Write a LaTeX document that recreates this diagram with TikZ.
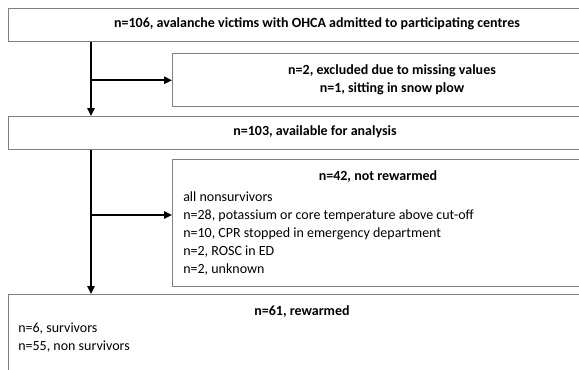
\documentclass[tikz,border=0pt]{standalone}
\usepackage{fontspec}
\setmainfont{Carlito}
\usetikzlibrary{arrows.meta,positioning}

\tikzset{
	box/.style={draw=gray,line width=1.1pt,anchor=north west,inner sep=0pt,minimum width=700pt},
	flow/.style={line width=1.4pt,-{Triangle[length=6pt,width=5.5pt]}},
	txt/.style={inner sep=0pt,font=\fontsize{10.5}{13.5}\selectfont},
	head/.style={txt,font=\fontsize{10.5}{13.5}\selectfont\bfseries},
}

\begin{document}
\begin{tikzpicture}[x=0.75pt,y=-0.75pt]
		\fill[white] (0,0) rectangle (579,369);
		% boxes
		\node[box,minimum height=24.75pt] (admitted) at (8,8) {};
		\node[box,minimum height=39.75pt] (excluded) at (172,53) {};
		\node[box,minimum height=24.75pt] (available) at (8,116) {};
		\node[box,minimum height=95.25pt] (notrew) at (172,159) {};
		\node[box,minimum height=75pt] (rew) at (8,294) {};
		% texts
		\node[head] (t1) at (317,24) {n=106, avalanche victims with OHCA admitted to participating centres};
		\node[head,align=center] (t2) at (392,80) {n=2, excluded due to missing values\\n=1, sitting in snow plow};
		\node[head] (t3) at (315,132) {n=103, available for analysis};
		\node[head] (t4) at (378,177) {n=42, not rewarmed};
		\node[txt,align=left,anchor=north west] (t5) at (183,192) {all nonsurvivors\\n=28, potassium or core temperature above cut-off\\n=10, CPR stopped in emergency department\\n=2, ROSC in ED\\n=2, unknown};
		\node[head] (t6) at (302,312) {n=61, rewarmed};
		\node[txt,align=left,anchor=north west] (t7) at (18,323) {n=6, survivors\\n=55, non survivors};
		% connectors
		\coordinate (trunk) at (91,0);
		\draw[flow] (admitted.south -| trunk) -- (available.north -| trunk);
		\draw[flow] (trunk |- excluded.west) -- (excluded.west);
		\draw[flow] (available.south -| trunk) -- (rew.north -| trunk);
		\coordinate (branch) at (0,215);
		\draw[flow] (trunk |- branch) -- (notrew.west |- branch);
		\pgfresetboundingbox
		\useasboundingbox (0,0) rectangle (579,369);
	\end{tikzpicture}
\end{document}
